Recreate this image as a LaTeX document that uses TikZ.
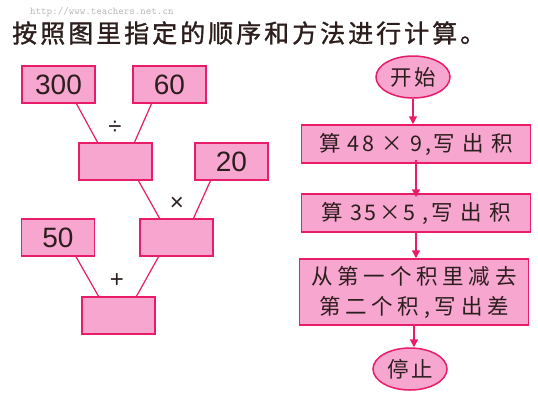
\documentclass[tikz,border=0pt]{standalone}
\usepackage{fontspec}
\setmainfont{Liberation Sans}
\newfontfamily\cjk[LetterSpace=12]{Noto Sans CJK SC}
\newfontfamily\cjkhead[LetterSpace=12, FakeBold=1.2]{Noto Sans CJK SC}
\usetikzlibrary{shapes.geometric, arrows.meta, calc}
\definecolor{boxpink}{RGB}{247,166,208}
\definecolor{boxred}{RGB}{232,28,104}
\definecolor{inkbrown}{RGB}{45,30,30}
\tikzset{
    numbox/.style={draw=boxred, fill=boxpink, line width=1.5pt, rectangle, minimum width=73pt, minimum height=37pt, inner sep=0pt, font=\fontsize{28}{30}\selectfont, text=inkbrown},
    stepbox/.style={draw=boxred, fill=boxpink, line width=1.5pt, rectangle, minimum width=229pt, minimum height=38pt, inner sep=2pt, font=\cjk\fontsize{21.5}{30}\selectfont, align=center, text=inkbrown},
    termnode/.style={draw=boxred, fill=boxpink, line width=1.5pt, ellipse, minimum width=74pt, minimum height=42pt, inner sep=0pt, font=\cjk\fontsize{21.5}{24}\selectfont, text=inkbrown},
    treeline/.style={draw=boxred, line width=1.2pt},
    flowarrow/.style={draw=boxred, line width=1.5pt, -{Triangle[length=8pt, width=8pt]}},
    opsign/.style={font=\fontsize{24}{24}\selectfont, text=inkbrown},
}
\begin{document}
\begin{tikzpicture}[x=1pt, y=-1pt]
    \useasboundingbox[fill=white] (0,0) rectangle (538,400);

    % Heading
    \node[font=\ttfamily\fontsize{10.5}{11}\selectfont, text=gray!55, anchor=west, inner sep=0pt] (mark) at (30,12) {http://www.teachers.net.cn};
    \node[font=\cjkhead\fontsize{25}{26}\selectfont, anchor=west, inner sep=0pt, text=inkbrown] (title) at (12,33) {按照图里指定的顺序和方法进行计算。};

    % Tree of operations
    \node[numbox] (n300) at (58.5,84.5) {300};
    \node[numbox] (n60) at (169.5,84.5) {60};
    \node[numbox] (quot) at (115.5,161.5) {};
    \node[numbox] (n20) at (231.5,161.5) {20};
    \node[numbox] (prod) at (176.5,237.5) {};
    \node[numbox] (n50) at (58,237.5) {50};
    \node[numbox] (total) at (118.5,315.5) {};

    \node[opsign] (divsign) at (115,128) {÷};
    \node[opsign] (mulsign) at (177,204) {×};
    \node[opsign] (addsign) at (117,281) {+};

    \draw[treeline] ([xshift=18pt]n300.south) -- ([xshift=-18pt]quot.north);
    \draw[treeline] ([xshift=-18pt]n60.south) -- ([xshift=19pt]quot.north);
    \draw[treeline] ([xshift=23pt]quot.south) -- ([xshift=-17pt]prod.north);
    \draw[treeline] ([xshift=-21pt]n20.south) -- ([xshift=17pt]prod.north);
    \draw[treeline] ([xshift=18pt]n50.south) -- ([xshift=-20pt]total.north);
    \draw[treeline] ([xshift=-18pt]prod.south) -- ([xshift=18pt]total.north);

    % Flow chart
    \node[termnode] (start) at (413,77) {开始};
    \node[stepbox] (stepa) at (416,144) {算 48 × 9,写 出 积};
    \node[stepbox] (stepb) at (416,213) {算 35×5 ,写 出 积};
    \node[stepbox, minimum height=66pt, font=\cjk\addfontfeature{LetterSpace=22}\fontsize{21.5}{30}\selectfont] (stepc) at (414,292) {从第一个积里减去\\第二个积,写出差};
    \node[termnode] (stop) at (410,369) {停止};

    \draw[flowarrow] (start.south) -- (start.south |- stepa.north);
    \draw[flowarrow] ([yshift=4pt]stepa.south) -- ([yshift=-4pt]stepa.south |- stepb.north);
    \draw[flowarrow] (stepb.south) -- (stepb.south |- stepc.north);
    \draw[flowarrow] (stepc.south) -- (stepc.south |- stop.north);
\end{tikzpicture}
\end{document}
